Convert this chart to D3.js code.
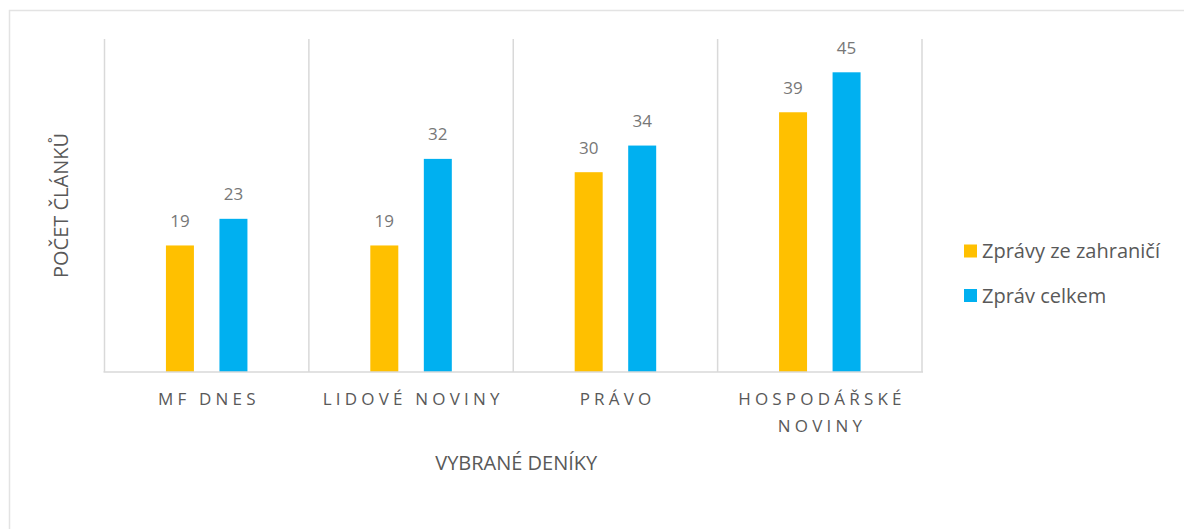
<!DOCTYPE html>
<html>
<head>
<meta charset="utf-8">
<script src="https://cdn.jsdelivr.net/npm/d3@7"></script>
<style>
  body { margin: 0; background: #fff; }
  svg { display: block; font-family: "Open Sans", sans-serif; }
</style>
</head>
<body>
<div id="graphic"></div>
<script>
const categories = ['MF DNES', 'LIDOVÉ NOVINY', 'PRÁVO', 'HOSPODÁŘSKÉ NOVINY'];
const seriesNames = ['Zprávy ze zahraničí', 'Zpráv celkem'];
const foreignNews = [19, 19, 30, 39];
const totalNews = [23, 32, 34, 45];

const width = 1184, height = 529;
const plot = {left: 104.5, right: 922, top: 39, bottom: 372};
const colors = ['#FFC000', '#00B0F0'];
const textColor = '#595959';
const gridColor = '#d9d9d9';

const rows = categories.map((c, i) => ({cat: c, values: [foreignNews[i], totalNews[i]]}));

const svg = d3.select("#graphic")
  .append("svg")
  .attr("width", width)
  .attr("height", height);

// chart frame
svg.append("rect")
  .attr("x", 9.5).attr("y", 10.5)
  .attr("width", width + 10).attr("height", height + 10)
  .attr("fill", "none")
  .attr("stroke", "#e3e3e3")
  .attr("stroke-width", 1.5);

const x0 = d3.scaleBand()
  .domain(categories)
  .range([plot.left, plot.right])
  .padding(0);

const half = 40.75;
const x1 = d3.scaleBand()
  .domain(seriesNames)
  .range([x0.bandwidth() / 2 - half, x0.bandwidth() / 2 + half])
  .paddingInner(0.477)
  .paddingOuter(0);

const y = d3.scaleLinear()
  .domain([0, 50])
  .range([plot.bottom, plot.top]);

const color = d3.scaleOrdinal().domain(seriesNames).range(colors);

// category separators
const seps = categories.map(c => x0(c)).concat([plot.right]);
svg.append("g")
  .selectAll("line")
  .data(seps)
  .join("line")
    .attr("x1", d => d).attr("x2", d => d)
    .attr("y1", y(50)).attr("y2", y(0))
    .attr("stroke", gridColor)
    .attr("stroke-width", 1.5);

// bars
const groups = svg.append("g")
  .selectAll("g")
  .data(rows)
  .join("g")
    .attr("transform", d => `translate(${x0(d.cat)},0)`);

groups.selectAll("rect")
  .data(d => d.values.map((v, i) => ({name: seriesNames[i], value: v})))
  .join("rect")
    .attr("x", d => x1(d.name))
    .attr("width", x1.bandwidth())
    .attr("y", d => y(d.value))
    .attr("height", d => y(0) - y(d.value))
    .attr("fill", d => color(d.name));

groups.selectAll("text")
  .data(d => d.values.map((v, i) => ({name: seriesNames[i], value: v})))
  .join("text")
    .attr("x", d => x1(d.name) + x1.bandwidth() / 2)
    .attr("y", d => y(d.value) - 18.5)
    .attr("text-anchor", "middle")
    .attr("font-size", 17)
    .attr("fill", "#777")
    .text(d => d.value);

// baseline
svg.append("line")
  .attr("x1", plot.left - 1).attr("x2", plot.right + 1)
  .attr("y1", y(0)).attr("y2", y(0))
  .attr("stroke", gridColor)
  .attr("stroke-width", 1.5);

// category labels
const spacing = 4.2;
const catLabels = svg.append("g")
  .selectAll("text")
  .data(categories)
  .join("text")
    .attr("text-anchor", "middle")
    .attr("font-size", 17)
    .attr("letter-spacing", spacing)
    .attr("fill", textColor)
    .attr("transform", d => `translate(${x0(d) + x0.bandwidth() / 2 + spacing / 2},405)`);

catLabels.each(function(d) {
  const el = d3.select(this);
  el.text(d);
  if (this.getComputedTextLength() > x0.bandwidth() - 10) {
    el.text(null);
    d.split(' ').forEach((w, i) => {
      el.append("tspan").attr("x", 0).attr("dy", i ? 27 : 0).text(w);
    });
  }
});

// axis titles
svg.append("text")
  .attr("x", (plot.left + plot.right) / 2 + 3)
  .attr("y", 470)
  .attr("text-anchor", "middle")
  .attr("font-size", 20)
  .attr("fill", textColor)
  .text("VYBRANÉ DENÍKY");

svg.append("text")
  .attr("transform", `translate(68,${(plot.top + plot.bottom) / 2}) rotate(-90)`)
  .attr("text-anchor", "middle")
  .attr("font-size", 20)
  .attr("fill", textColor)
  .text("POČET ČLÁNKŮ");

// legend
const legend = svg.append("g")
  .selectAll("g")
  .data(seriesNames)
  .join("g")
    .attr("transform", (d, i) => `translate(964,${251 + i * 44.5})`);

legend.append("rect")
  .attr("x", 0).attr("y", -6.5)
  .attr("width", 13).attr("height", 13)
  .attr("fill", d => color(d));

legend.append("text")
  .attr("x", 18)
  .attr("dy", "0.35em")
  .attr("font-size", 20)
  .attr("fill", textColor)
  .text(d => d);
</script>
</body>
</html>
